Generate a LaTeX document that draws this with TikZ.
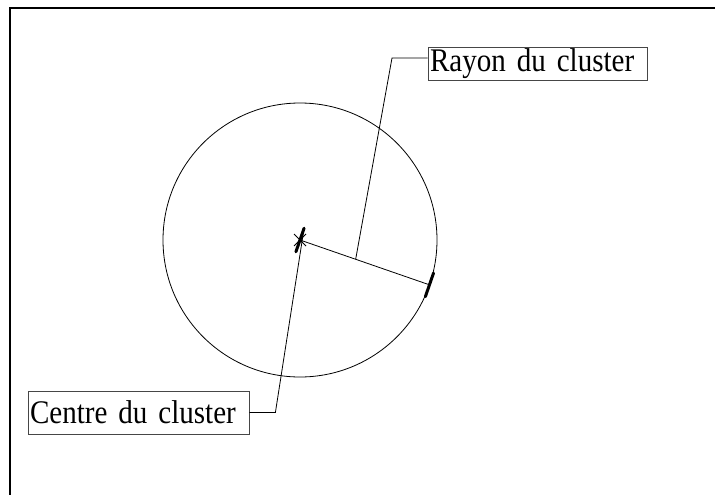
\documentclass[tikz,border=0pt]{standalone}
\usepackage{fontspec}
\setmainfont{Liberation Serif}
\newfontfamily\labelfont{Liberation Serif}[FakeStretch=0.88, WordSpace=0.85]
\usepackage{xcolor}
\definecolor{boxgray}{RGB}{70,70,70}
\usetikzlibrary{calc}

\begin{document}
\begin{tikzpicture}[
    x=1pt, y=-1pt,
    label/.style ={rectangle, draw=boxgray, line width=0.8pt,
                   font=\labelfont\fontsize{33}{34}\selectfont, align=left,
                   inner xsep=2pt, inner ysep=0pt, anchor=center},
    thin/.style  ={line width=0.8pt, color=black},
    tick/.style  ={line width=3pt, color=black, line cap=round}
]
\useasboundingbox (0,0) rectangle (715,495);
%% --- cadre ---
\draw[line width=1.2pt] (10,495) -- (10,8) -- (715,8);

%% --- cluster : centre et rayon ---
\coordinate (c) at (300,240);
\draw[thin] (c) circle (137);
\coordinate (p) at ($(c)+(19.1:137)$);
\draw[thin] (c) -- (p);
\draw[thin] ($(c)+(-6,-6)$) -- ($(c)+(6,6)$);
\draw[thin] ($(c)+(-6,6)$) -- ($(c)+(6,-6)$);
\coordinate (ct) at ($(c)!12.5pt!-90:(p)$);
\coordinate (cb) at ($(c)!12.5pt!90:(p)$);
\draw[tick] (ct) -- (cb);
\draw[tick] ($(p)!12.5pt!90:(c)$) -- ($(p)!12.5pt!-90:(c)$);

%% --- etiquettes ---
\node[label, text width=215pt, minimum height=33pt] (rayon)  at (537.5,63.5)  {Rayon du cluster};
\node[label, text width=217pt, minimum height=43pt] (centre) at (138.5,412.5) {Centre du cluster};

%% --- lignes de rappel ---
\coordinate (rm) at ($(c)!0.43!(p)$);
\coordinate (rk) at (392,58);
\draw[thin] (rm) -- (rk) -- (rk -| rayon.west);
\draw[thin] (centre.east) -- ++(26,0) -- (cb);
\end{tikzpicture}
\end{document}
